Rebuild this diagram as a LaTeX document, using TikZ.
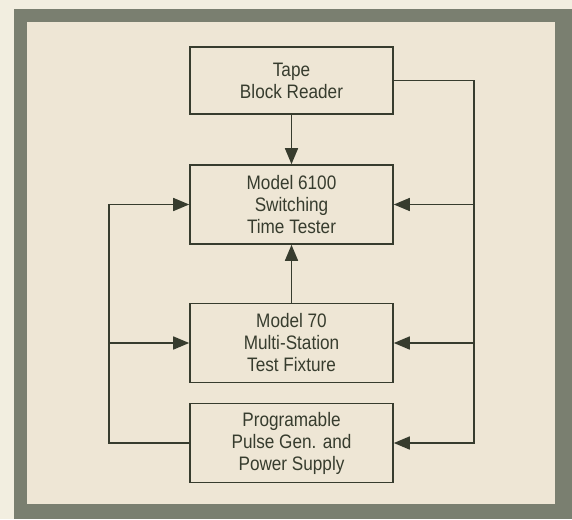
\documentclass[tikz,border=0pt]{standalone}
\usepackage{fontspec}
\setmainfont{Liberation Sans}[FakeStretch=0.88]
\usetikzlibrary{arrows.meta, positioning}
\definecolor{ink}{RGB}{55,60,46}
\definecolor{paper}{RGB}{238,230,213}
\definecolor{outside}{RGB}{242,238,224}
\definecolor{rim}{RGB}{122,127,112}

\begin{document}
\begin{tikzpicture}[x=1pt,y=-1pt,
  blockbox/.style={draw=ink, line width=1.6pt, minimum width=203pt, minimum height=79pt,
    inner sep=0pt, align=center, text=ink, font=\fontsize{19.5}{22}\selectfont},
  link/.style={draw=ink, line width=1.6pt, -{Triangle[length=16pt,width=13pt]}}]
\useasboundingbox (0,0) rectangle (572,519);
\fill [outside] (0,0) rectangle (572,519);
\fill [rim] (14,9) rectangle (572,519);
\fill [paper] (27,22) rectangle (555,504);
% blocks
\node (tape) at (291.5,80.5) [blockbox, minimum height=67pt] {Tape\\Block Reader};
\node (tester) at (291.5,204.5) [blockbox] {Model 6100\\Switching\\Time Tester};
\node (fixture) at (291.5,343) [blockbox] {Model 70\\Multi-Station\\Test Fixture};
\node (pulse) at (291.5,443) [blockbox] {Programable\\Pulse Gen. and\\Power Supply};
% connectors
\draw [link] (tape) -- (tester);
\draw [link] (fixture) -- (tester);
\draw [link] (tape.east) -- ++(80,0) coordinate (rbus) |- (pulse.east);
\draw [link] (rbus |- tester.east) -- (tester.east);
\draw [link] (rbus |- fixture.east) -- (fixture.east);
\draw [link] (pulse.west) -- ++(-80,0) coordinate (lbus) |- (tester.west);
\draw [link] (lbus |- fixture.west) -- (fixture.west);
\end{tikzpicture}
\end{document}
